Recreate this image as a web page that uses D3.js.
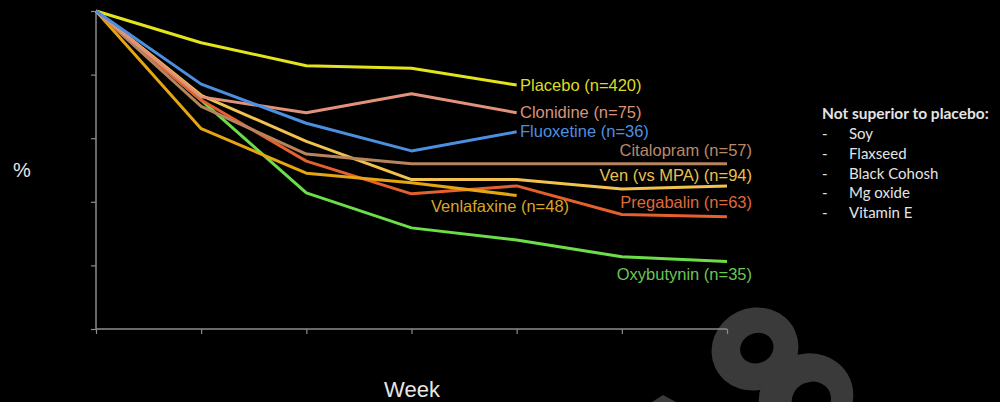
<!DOCTYPE html>
<html>
<head>
<meta charset="utf-8">
<script src="https://cdn.jsdelivr.net/npm/d3@7"></script>
<style>
  html, body { margin: 0; padding: 0; background: #000; }
  svg { display: block; }
</style>
</head>
<body>
<svg id="chart" width="1000" height="402"></svg>
<script>
// Weeks on the x axis
const weeks = [0, 1, 2, 3, 4, 5, 6];

// Hot flash score as % of baseline, one array per treatment (weeks 0..n)
const placebo     = [100, 90, 82.8, 82, 76.7];
const clonidine   = [100, 73, 68, 74, 68];
const fluoxetine  = [100, 77, 64.7, 56, 62];
const citalopram  = [100, 70, 55, 52, 52, 52, 52];
const venMPA      = [100, 73.5, 59, 47, 47, 44, 45];
const venlafaxine = [100, 63, 49, 46, 42];
const pregabalin  = [100, 72, 52.8, 42.5, 45, 36, 35.3];
const oxybutynin  = [100, 72, 42.8, 31.8, 28, 22.7, 21.2];

const seriesNames = [
  "Placebo (n=420)", "Clonidine (n=75)", "Fluoxetine (n=36)", "Citalopram (n=57)",
  "Ven (vs MPA) (n=94)", "Venlafaxine (n=48)", "Pregabalin (n=63)", "Oxybutynin (n=35)"
];
const seriesValues = [placebo, clonidine, fluoxetine, citalopram, venMPA, venlafaxine, pregabalin, oxybutynin];

const yTicks = [0, 20, 40, 60, 80, 100];
const notSuperior = ["Soy", "Flaxseed", "Black Cohosh", "Mg oxide", "Vitamin E"];

// Per-series styling: colour and where its label sits
const styles = [
  { line: "#e4e41c", text: "#dcdc22", anchor: "start", lx: 520, ly: 91 },
  { line: "#e2927a", text: "#d99378", anchor: "start", lx: 520, ly: 118 },
  { line: "#4c8fe0", text: "#4d8fe0", anchor: "start", lx: 520, ly: 137 },
  { line: "#b8845e", text: "#b98a68", anchor: "end",   lx: 752, ly: 156 },
  { line: "#f2c24e", text: "#e8c050", anchor: "end",   lx: 752, ly: 181 },
  { line: "#e6a612", text: "#d9a52a", anchor: "start", lx: 431, ly: 212 },
  { line: "#e4602e", text: "#df6a3c", anchor: "end",   lx: 752, ly: 208 },
  { line: "#6cde4a", text: "#6cc452", anchor: "end",   lx: 752, ly: 280 }
];

const svg = d3.select("#chart");

// Background watermark shapes (dark grey, behind everything)
const wm = svg.append("g").attr("fill", "#3a3a3a").attr("fill-rule", "evenodd");
function ringPath(rx, ry, hx, hy, hrx, hry) {
  return `M${-rx},0 a${rx},${ry} 0 1,0 ${2 * rx},0 a${rx},${ry} 0 1,0 ${-2 * rx},0 Z ` +
         `M${hx - hrx},${hy} a${hrx},${hry} 0 1,0 ${2 * hrx},0 a${hrx},${hry} 0 1,0 ${-2 * hrx},0 Z`;
}
wm.append("path")
  .attr("d", ringPath(44, 41, 2, 0, 17, 15))
  .attr("transform", "translate(755,349) rotate(-25)");
wm.append("path")
  .attr("d", ringPath(48, 44, 4, 4, 20, 18))
  .attr("transform", "translate(806,398) rotate(-25)");
wm.append("path").attr("d", "M652,402 L663,395 L676,402 Z");

const x = d3.scaleLinear().domain([0, 6]).range([96, 727]);
const y = d3.scaleLinear().domain([0, 100]).range([329, 11]);

// Axes
const axisColor = "#8c8c8c";
const xAxis = svg.append("g")
  .attr("transform", `translate(0,${y(0)})`)
  .call(d3.axisBottom(x).tickValues(weeks).tickSize(5).tickFormat(""));
const yAxis = svg.append("g")
  .attr("transform", `translate(${x(0)},0)`)
  .call(d3.axisLeft(y).tickValues(yTicks).tickSize(5).tickFormat(""));
[xAxis, yAxis].forEach(g => {
  g.select(".domain").attr("stroke", axisColor).attr("stroke-width", 1.5);
  g.selectAll(".tick line").attr("stroke", axisColor).attr("stroke-width", 1.2);
});
xAxis.select(".domain").attr("d", `M${x(0)},0H${x(6)}`);
yAxis.select(".domain").attr("d", `M0,${y(0)}V${y(100)}`);

// Lines, drawn bottom-up so the upper series sit on top where they meet
const line = d3.line().x((d, i) => x(weeks[i])).y(d => y(d));
const order = [7, 6, 5, 4, 3, 0, 1, 2];
order.forEach(i => {
  svg.append("path")
    .datum(seriesValues[i])
    .attr("d", line)
    .attr("fill", "none")
    .attr("stroke", styles[i].line)
    .attr("stroke-width", 3)
    .attr("stroke-linejoin", "round");
});

// Series labels
svg.append("g").selectAll("text")
  .data(seriesNames)
  .join("text")
  .attr("x", (d, i) => styles[i].lx)
  .attr("y", (d, i) => styles[i].ly)
  .attr("text-anchor", (d, i) => styles[i].anchor)
  .attr("fill", (d, i) => styles[i].text)
  .style("font-family", "'Liberation Sans', Arial, sans-serif")
  .style("font-size", "16.5px")
  .text(d => d);

// Axis titles
svg.append("text")
  .attr("x", 22).attr("y", 177)
  .attr("text-anchor", "middle")
  .attr("fill", "#e6e6e6")
  .style("font-family", "'Liberation Sans', Arial, sans-serif")
  .style("font-size", "20px")
  .text("%");
svg.append("text")
  .attr("x", 412).attr("y", 397)
  .attr("text-anchor", "middle")
  .attr("fill", "#e6e6e6")
  .style("font-family", "'Liberation Sans', Arial, sans-serif")
  .style("font-size", "22px")
  .text("Week");

// Side note listing agents not superior to placebo
const note = svg.append("g")
  .style("font-family", "Lato, 'Open Sans', sans-serif")
  .attr("fill", "#e4e4e4");
note.append("text")
  .attr("x", 822).attr("y", 119)
  .style("font-size", "15.5px")
  .style("font-weight", "bold")
  .text("Not superior to placebo:");
notSuperior.forEach((item, k) => {
  const yy = 139 + k * 19.8;
  note.append("text").attr("x", 822).attr("y", yy).style("font-size", "15px").text("-");
  note.append("text").attr("x", 849).attr("y", yy).style("font-size", "15px").text(item);
});
</script>
</body>
</html>
